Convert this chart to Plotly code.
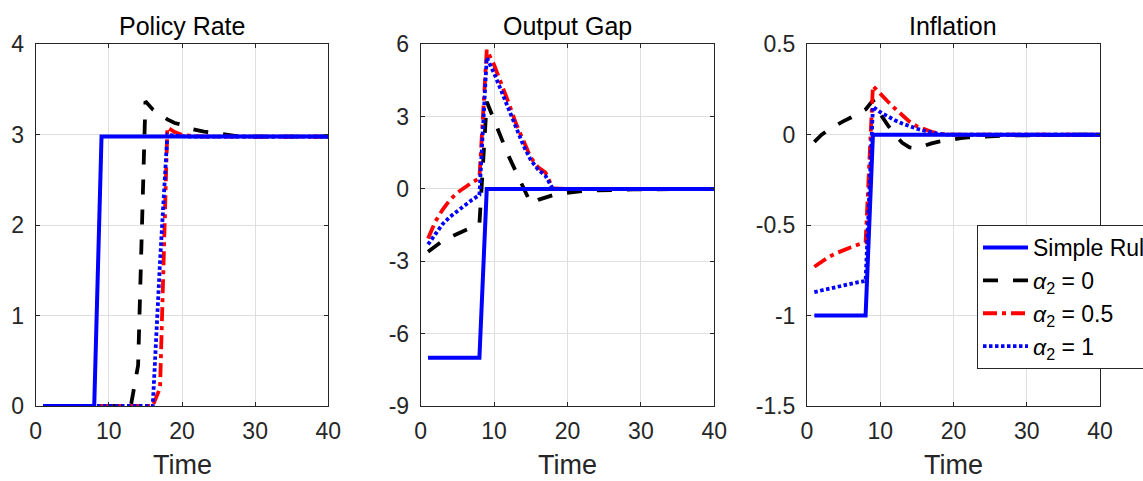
import plotly.graph_objects as go

# ---------------- data ----------------
time = [1, 2, 3, 4, 5, 6, 7, 8, 9, 10, 11, 12, 13, 14, 15, 16, 17, 18, 19, 20,
        21, 22, 23, 24, 25, 26, 27, 28, 29, 30, 31, 32, 33, 34, 35, 36, 37, 38, 39, 40]

series_names = ["Simple Rule", "<i>α</i><sub>2</sub> = 0", "<i>α</i><sub>2</sub> = 0.5", "<i>α</i><sub>2</sub> = 1"]

# Policy Rate
policy_simple = [0, 0, 0, 0, 0, 0, 0, 0, 2.98, 2.98, 2.98, 2.98, 2.98, 2.98, 2.98, 2.98, 2.98, 2.98, 2.98, 2.98,
                 2.98, 2.98, 2.98, 2.98, 2.98, 2.98, 2.98, 2.98, 2.98, 2.98, 2.98, 2.98, 2.98, 2.98, 2.98, 2.98, 2.98, 2.98, 2.98, 2.98]
policy_a0 = [0, 0, 0, 0, 0, 0, 0, 0, 0, 0, 0, 0, 0, 0.45, 3.37, 3.28, 3.22, 3.17, 3.13, 3.11,
             3.07, 3.05, 3.035, 3.025, 3.01, 3.0, 2.99, 2.98, 2.98, 2.98, 2.98, 2.98, 2.98, 2.98, 2.98, 2.98, 2.98, 2.98, 2.98, 2.98]
policy_a05 = [0, 0, 0, 0, 0, 0, 0, 0, 0, 0, 0, 0, 0, 0, 0, 0, 0.2, 3.08, 3.03, 3.0,
              2.99, 2.98, 2.98, 2.98, 2.98, 2.98, 2.98, 2.98, 2.98, 2.98, 2.98, 2.98, 2.98, 2.98, 2.98, 2.98, 2.98, 2.98, 2.98, 2.98]
policy_a1 = [0, 0, 0, 0, 0, 0, 0, 0, 0, 0, 0, 0, 0, 0, 0, 0, 1.6, 3.0, 2.99, 2.98,
             2.98, 2.98, 2.98, 2.98, 2.98, 2.98, 2.98, 2.98, 2.98, 2.98, 2.98, 2.98, 2.98, 2.98, 2.98, 2.98, 2.98, 2.98, 2.98, 2.98]

# Output Gap
gap_simple = [-7, -7, -7, -7, -7, -7, -7, -7, 0, 0, 0, 0, 0, 0, 0, 0, 0, 0, 0, 0,
              0, 0, 0, 0, 0, 0, 0, 0, 0, 0, 0, 0, 0, 0, 0, 0, 0, 0, 0, 0]
gap_a0 = [-2.6, -2.35, -2.15, -2.0, -1.85, -1.72, -1.6, -1.45, 3.62, 2.9, 2.1, 1.35, 0.68, 0.05, -0.6, -0.45, -0.34, -0.26, -0.2, -0.15,
          -0.12, -0.09, -0.07, -0.055, -0.045, -0.035, -0.028, -0.022, -0.017, -0.013, -0.01, -0.008, -0.006, -0.005, -0.004, -0.003, -0.002, -0.002, -0.001, -0.001]
gap_a05 = [-2.05, -1.35, -0.85, -0.45, -0.15, 0.07, 0.27, 0.45, 5.77, 5.15, 4.4, 3.55, 2.7, 1.95, 1.3, 0.9, 0.68, 0.02, 0.0, 0.0,
           0, 0, 0, 0, 0, 0, 0, 0, 0, 0, 0, 0, 0, 0, 0, 0, 0, 0, 0, 0]
gap_a1 = [-2.3, -1.85, -1.45, -1.15, -0.9, -0.68, -0.45, -0.25, 5.45, 4.8, 4.05, 3.3, 2.5, 1.8, 1.2, 0.8, 0.55, 0.0, 0.0, 0.0,
          0, 0, 0, 0, 0, 0, 0, 0, 0, 0, 0, 0, 0, 0, 0, 0, 0, 0, 0, 0]

# Inflation
infl_simple = [-1, -1, -1, -1, -1, -1, -1, -1, 0, 0, 0, 0, 0, 0, 0, 0, 0, 0, 0, 0,
               0, 0, 0, 0, 0, 0, 0, 0, 0, 0, 0, 0, 0, 0, 0, 0, 0, 0, 0, 0]
infl_a0 = [-0.04, 0.0, 0.03, 0.055, 0.075, 0.095, 0.115, 0.14, 0.19, 0.115, 0.055, 0.0, -0.045, -0.07, -0.075, -0.06, -0.048, -0.038, -0.03, -0.024,
           -0.019, -0.015, -0.012, -0.01, -0.008, -0.006, -0.005, -0.004, -0.003, -0.002, -0.002, -0.001, -0.001, -0.001, 0, 0, 0, 0, 0, 0]
infl_a05 = [-0.73, -0.70, -0.675, -0.655, -0.637, -0.622, -0.607, -0.595, 0.27, 0.225, 0.185, 0.145, 0.105, 0.072, 0.047, 0.03, 0.016, 0.006, 0.002, 0,
            0, 0, 0, 0, 0, 0, 0, 0, 0, 0, 0, 0, 0, 0, 0, 0, 0, 0, 0, 0]
infl_a1 = [-0.87, -0.86, -0.85, -0.84, -0.831, -0.823, -0.815, -0.808, 0.155, 0.125, 0.1, 0.08, 0.062, 0.046, 0.033, 0.022, 0.012, 0.004, 0.001, 0,
           0, 0, 0, 0, 0, 0, 0, 0, 0, 0, 0, 0, 0, 0, 0, 0, 0, 0, 0, 0]

panel_titles = ["Policy Rate", "Output Gap", "Inflation"]
x_label = "Time"
x_tickvals = [0, 10, 20, 30, 40]
x_ticktext = ["0", "10", "20", "30", "40"]
y_tickvals = [[0, 1, 2, 3, 4], [-9, -6, -3, 0, 3, 6], [-1.5, -1, -0.5, 0, 0.5]]
y_ticktext = [["0", "1", "2", "3", "4"], ["-9", "-6", "-3", "0", "3", "6"], ["-1.5", "-1", "-0.5", "0", "0.5"]]
y_ranges = [[0, 4], [-9, 6], [-1.5, 0.5]]

panels = [
    [policy_simple, policy_a0, policy_a05, policy_a1],
    [gap_simple, gap_a0, gap_a05, gap_a1],
    [infl_simple, infl_a0, infl_a05, infl_a1],
]

# ---------------- styling ----------------
colors = ["#0000FF", "#000000", "#FF0000", "#0000FF"]
dashes = ["solid", "15px,15px", "14px,5px,4px,5px", "3.5px,2.5px"]
widths = [4, 3.8, 3.8, 3.8]
draw_order = [1, 2, 3, 0]  # simple rule drawn on top
font_family = "Liberation Sans, Arial, Helvetica, sans-serif"
axis_col = "#262626"

W, H = 1143, 481
x_dom = [[35.7 / W, 328.3 / W], [420.7 / W, 714.3 / W], [807 / W, 1100 / W]]
y_dom = [1 - 406 / H, 1 - 44.3 / H]

fig = go.Figure()
for p, series in enumerate(panels):
    xa = "x" if p == 0 else f"x{p+1}"
    ya = "y" if p == 0 else f"y{p+1}"
    for k in draw_order:
        fig.add_trace(go.Scatter(
            x=time, y=series[k], mode="lines", name=series_names[k],
            line=dict(color=colors[k], width=widths[k], dash=dashes[k]),
            xaxis=xa, yaxis=ya, showlegend=(p == 2), legendrank=k + 1,
            legendgroup=str(k),
        ))

layout = dict(
    width=W, height=H,
    margin=dict(l=0, r=0, t=0, b=0, autoexpand=False),
    paper_bgcolor="white", plot_bgcolor="white",
    font=dict(family=font_family, color=axis_col),
    legend=dict(x=977 / W, y=1 - 225 / H, xanchor="left", yanchor="top",
                bgcolor="white", bordercolor=axis_col, borderwidth=1,
                font=dict(size=23, color="#000000", family=font_family),
                itemwidth=45, tracegroupgap=0, traceorder="normal"),
    annotations=[],
)
for p in range(3):
    sx = "" if p == 0 else str(p + 1)
    layout[f"xaxis{sx}"] = dict(
        domain=x_dom[p], range=[0, 40], anchor=f"y{sx}",
        tickvals=x_tickvals, ticktext=x_ticktext,
        showgrid=True, gridcolor="#dfdfdf", gridwidth=1, zeroline=False,
        showline=True, linecolor=axis_col, linewidth=1, mirror="ticks",
        ticks="inside", ticklen=4, tickcolor=axis_col,
        tickfont=dict(size=23, color=axis_col), ticklabelstandoff=4,
    )
    layout[f"yaxis{sx}"] = dict(
        domain=y_dom, range=y_ranges[p], anchor=f"x{sx}",
        tickvals=y_tickvals[p], ticktext=y_ticktext[p],
        showgrid=True, gridcolor="#dfdfdf", gridwidth=1, zeroline=False,
        showline=True, linecolor=axis_col, linewidth=1, mirror="ticks",
        ticks="inside", ticklen=4, tickcolor=axis_col,
        tickfont=dict(size=23, color=axis_col), ticklabelstandoff=6,
    )
    cx = (x_dom[p][0] + x_dom[p][1]) / 2
    layout["annotations"].append(dict(
        text=panel_titles[p], x=cx, y=1 - 26 / H, xref="paper", yref="paper",
        xanchor="center", yanchor="middle", showarrow=False,
        font=dict(size=25, color="#000000", family=font_family)))
    layout["annotations"].append(dict(
        text=x_label, x=cx, y=0, xref="paper", yref="paper",
        xanchor="center", yanchor="bottom", showarrow=False, borderpad=0,
        font=dict(size=27, color=axis_col, family=font_family)))

fig.update_layout(**layout)
fig.write_html("out.html", config={"displayModeBar": False},
               post_script="document.body.style.margin='0px';document.body.style.overflow='hidden';")
